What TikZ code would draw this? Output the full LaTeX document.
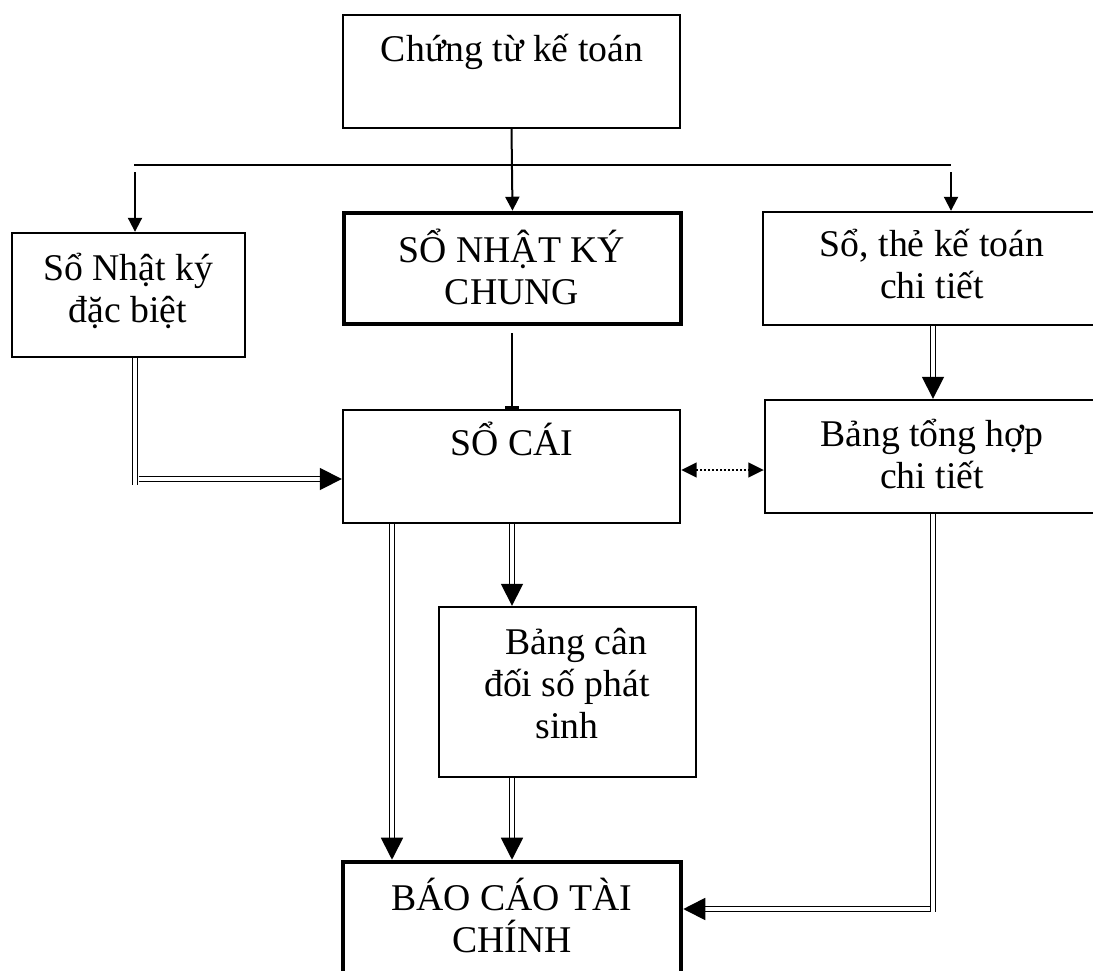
\documentclass[tikz,border=0pt]{standalone}
\usepackage{fontspec}
\setmainfont{Liberation Serif}
\usetikzlibrary{arrows.meta,fit}
\tikzset{
  box/.style={draw, line width=1.8pt, inner sep=0pt},
  boldbox/.style={draw, line width=3.4pt, inner sep=0pt},
  txt/.style={font=\fontsize{28.3pt}{31.5pt}\selectfont, align=center, inner sep=0pt, anchor=base},
  conn/.style={line width=1.5pt},
  tip/.style={-{Triangle[length=10.5pt,width=10.5pt]}},
  bartip/.style={-{Rectangle[length=2.2pt,width=11pt]}},
  dline/.style={double, line width=1.3pt, double distance=2.6pt},
  dtip/.style={-{Triangle[length=16.5pt,width=16.5pt]}},
  dotarrow/.style={line width=1.3pt, dash pattern=on 1.5pt off 1.5pt,
    {Triangle[length=11.5pt,width=11pt]}-{Triangle[length=11.5pt,width=11pt]}},
}
\begin{document}
\begin{tikzpicture}[x=0.75pt,y=-0.75pt]
\path[use as bounding box] (0,0) rectangle (1093,971);
\clip (0,0) rectangle (1093,971);

% boxes (text nodes are placed by the baseline of their last line)
\node[box, fit={(343,15) (680,128)}] (ctkt) {};
\node[txt] (ctktT) at (512,61) {Chứng từ kế toán};

\node[box, fit={(12,233) (245,357)}] (nkdb) {};
\node[txt] (nkdbT) at (128,322) {Sổ Nhật ký\\đặc biệt};

\node[boldbox, fit={(344,213) (681,324)}] (nkc) {};
\node[txt] (nkcT) at (512,304) {SỔ NHẬT KÝ\\CHUNG};

\node[box, fit={(763,212) (1120,325)}] (stct) {};
\node[txt] (stctT) at (932,298) {Sổ, thẻ kế toán\\chi tiết};

\node[box, fit={(343,410) (680,523)}] (sc) {};
\node[txt] (scT) at (512,455) {SỔ CÁI};

\node[box, fit={(765,400) (1120,513)}] (btht) {};
\node[txt] (bthtT) at (932,488) {Bảng tổng hợp\\chi tiết};

\node[box, fit={(439,607) (696,777)}] (bcd) {};
\node[txt] (bcdT) at (567,738) {\hspace*{0.5em}Bảng cân\\đối số phát\\sinh};

\node[boldbox, fit={(343,862) (681,1020)}] (bctc) {};
\node[txt] (bctcT) at (512,952) {BÁO CÁO TÀI\\CHÍNH};

% distribution line from the source documents
\coordinate (hl) at (134,165);
\coordinate (hr) at (951,165);
\coordinate (al) at (135,172);
\coordinate (ar) at (951,172);
\draw[conn] (hl) -- (hr);
\draw[conn,tip] (al) -- (al |- nkdb.north);
\draw[conn,tip] (ctkt.south) -- (nkc.north);
\draw[conn,tip] (ar) -- (ar |- stct.north);

% general journal to ledger
\coordinate (nb) at (512,333);
\draw[conn,bartip] (nb) -- (nb |- sc.north);

% special journal to ledger
\coordinate (dv) at (135,485);
\coordinate (dh) at (138.5,479);
\draw[dline] (nkdb.south -| dv) -- (dv);
\draw[dline,dtip] (dh) -- (dh -| sc.west);

% reconciliation between ledger and detail summary
\coordinate (dy) at (0,470);
\draw[dotarrow] (sc.east |- dy) -- (btht.west |- dy);

% detail books to summary
\coordinate (rx) at (933,0);
\draw[dline,dtip] (stct.south -| rx) -- (btht.north -| rx);

% ledger to trial balance and reports
\coordinate (lx) at (392,0);
\coordinate (mx) at (512,0);
\draw[dline,dtip] (sc.south -| lx) -- (bctc.north -| lx);
\draw[dline,dtip] (sc.south -| mx) -- (bcd.north -| mx);
\draw[dline,dtip] (bcd.south -| mx) -- (bctc.north -| mx);

% detail summary to reports
\coordinate (rv) at (933,912);
\coordinate (rh) at (930,909);
\draw[dline] (btht.south -| rv) -- (rv);
\draw[dline,dtip] (rh) -- (rh -| bctc.east);
\end{tikzpicture}
\end{document}
